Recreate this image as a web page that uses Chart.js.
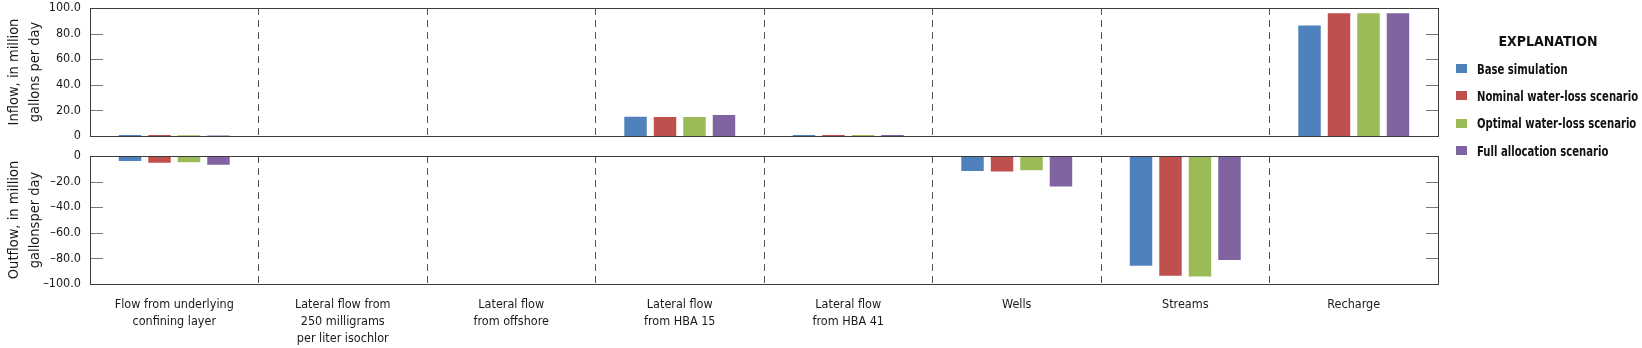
<!DOCTYPE html>
<html>
<head>
<meta charset="utf-8">
<script src="https://cdn.jsdelivr.net/npm/chart.js@4.4.1/dist/chart.umd.min.js"></script>
<style>
  body {
    margin: 0;
    background: #fff;
    width: 1642px;
    height: 348px;
    overflow: hidden;
    position: relative;
    font-family: 'Liberation Sans Narrow', 'DejaVu Sans Condensed', sans-serif;
  }
  #inflowBox { position: absolute; left: 0; top: 0; width: 1642px; height: 146px; }
  #outflowBox { position: absolute; left: 0; top: 146px; width: 1642px; height: 202px; }
  #legend { position: absolute; left: 1456px; top: 31px; color: #111; white-space: nowrap; }
  #legend h3 {
    margin: 0 0 4px 0; font-size: 14px; font-weight: bold; height: 20px; line-height: 20px;
    width: 184px; text-align: center;
  }
  #legend .item { display: flex; align-items: center; height: 27.3px; font-size: 13.5px; font-weight: bold; }
  #legend .swatch { width: 11px; height: 9px; margin-right: 10px; flex: none; }
  #legend .name { display: inline-block; transform: scaleX(0.83); transform-origin: left center; }
</style>
</head>
<body>
<div id="inflowBox"><canvas id="inflow"></canvas></div>
<div id="outflowBox"><canvas id="outflow"></canvas></div>
<div id="legend"></div>
<script>
const categories = [
  ['Flow from underlying', 'confining layer'],
  ['Lateral flow from', '250 milligrams', 'per liter isochlor'],
  ['Lateral flow', 'from offshore'],
  ['Lateral flow', 'from HBA 15'],
  ['Lateral flow', 'from HBA 41'],
  'Wells',
  'Streams',
  'Recharge'
];

const scenarios = [
  'Base simulation',
  'Nominal water-loss scenario',
  'Optimal water-loss scenario',
  'Full allocation scenario'
];
const colors = ['#4F81BD', '#C0504D', '#9BBB59', '#8064A2'];

// inflow, million gallons per day
const inflowBase    = [1.5, 0, 0, 15.9, 1.4, 0, 0, 87.2];
const inflowNominal = [1.5, 0, 0, 15.6, 1.4, 0, 0, 96.6];
const inflowOptimal = [1.1, 0, 0, 15.6, 1.4, 0, 0, 96.6];
const inflowFull    = [0.8, 0, 0, 17.2, 1.4, 0, 0, 96.6];

// outflow, million gallons per day
const outflowBase    = [-4.7, 0, -1.3, -1.3, -0.8, -12.5, -86.5, 0];
const outflowNominal = [-6.0, 0, -1.3, -1.3, -0.8, -12.8, -94.3, 0];
const outflowOptimal = [-5.7, 0, -1.3, -1.3, -0.8, -12.0, -95.0, 0];
const outflowFull    = [-7.6, 0, -1.3, -1.3, -0.8, -24.7, -82.0, 0];

const inflowTicks = [0, 20, 40, 60, 80, 100];
const outflowTicks = [0, -20, -40, -60, -80, -100];

const FONT = "'Liberation Sans Narrow', 'DejaVu Sans Condensed', sans-serif";

function makeDatasets(series) {
  return series.map((values, i) => ({
    label: scenarios[i],
    data: values,
    backgroundColor: colors[i],
    borderColor: 'rgba(255,255,255,0.55)',
    borderWidth: 1,
    categoryPercentage: 0.7,
    barPercentage: 0.83
  }));
}

// box round the plot and short inward ticks on both sides
const framePlugin = {
  id: 'frame',
  afterDatasetsDraw(chart) {
    const { ctx, chartArea: a, scales: { y } } = chart;
    ctx.save();
    ctx.strokeStyle = '#7a7a7a';
    ctx.lineWidth = 1;
    y.ticks.forEach(t => {
      const py = Math.round(y.getPixelForValue(t.value)) + 0.5;
      ctx.beginPath();
      ctx.moveTo(a.left, py); ctx.lineTo(a.left + 13, py);
      ctx.moveTo(a.right - 12, py); ctx.lineTo(a.right, py);
      ctx.stroke();
    });
    ctx.strokeStyle = '#3c3c3c';
    ctx.strokeRect(Math.round(a.left) + 0.5, Math.round(a.top) + 0.5,
      Math.round(a.right - a.left), Math.round(a.bottom - a.top));
    ctx.restore();
  }
};

function makeOptions(ticks, titleLines, showLabels) {
  const lo = Math.min(...ticks), hi = Math.max(...ticks);
  return {
    responsive: true,
    maintainAspectRatio: false,
    animation: false,
    layout: { padding: { left: 0, right: 204, top: showLabels ? 10 : 8, bottom: 0 } },
    plugins: { legend: { display: false }, tooltip: { enabled: false } },
    scales: {
      x: {
        grid: {
          offset: true,
          drawTicks: false,
          color: c => (c.index === 0 || c.index === categories.length) ? 'rgba(0,0,0,0)' : '#555',
          lineWidth: 1
        },
        border: { display: false, dash: [7, 5] },
        ticks: {
          display: showLabels,
          padding: 12,
          color: '#1a1a1a',
          font: { family: FONT, size: 12.5, lineHeight: 1.36 },
          maxRotation: 0,
          autoSkip: false
        },
        afterFit(scale) {
          scale.height = showLabels ? 64 : 10;
          scale.paddingLeft = 0;
          scale.paddingRight = 0;
        }
      },
      y: {
        min: lo,
        max: hi,
        grid: { display: false, drawTicks: false },
        border: { display: false },
        afterBuildTicks(scale) { scale.ticks = ticks.map(v => ({ value: v })); },
        ticks: {
          padding: 9,
          color: '#1a1a1a',
          font: { family: FONT, size: 12.5 },
          callback: v => v === 0 ? '0' : (v < 0 ? '\u2013' : '') + Math.abs(v).toFixed(1)
        },
        title: {
          display: true,
          text: titleLines,
          color: '#1a1a1a',
          font: { family: FONT, size: 14.5, lineHeight: 1.45 },
          padding: { top: 4, bottom: 0 }
        },
        afterFit(scale) {
          scale.width = 90;
          scale.paddingTop = 0;
          scale.paddingBottom = 0;
        }
      }
    }
  };
}

new Chart(document.getElementById('inflow'), {
  type: 'bar',
  data: {
    labels: categories,
    datasets: makeDatasets([inflowBase, inflowNominal, inflowOptimal, inflowFull])
  },
  options: makeOptions(inflowTicks, ['Inflow, in million', 'gallons per day'], false),
  plugins: [framePlugin]
});

new Chart(document.getElementById('outflow'), {
  type: 'bar',
  data: {
    labels: categories,
    datasets: makeDatasets([outflowBase, outflowNominal, outflowOptimal, outflowFull])
  },
  options: makeOptions(outflowTicks, ['Outflow, in million', 'gallonsper day'], true),
  plugins: [framePlugin]
});

// legend
const legend = document.getElementById('legend');
const head = document.createElement('h3');
head.textContent = 'EXPLANATION';
legend.appendChild(head);
scenarios.forEach((name, i) => {
  const row = document.createElement('div');
  row.className = 'item';
  const sw = document.createElement('span');
  sw.className = 'swatch';
  sw.style.background = colors[i];
  const txt = document.createElement('span');
  txt.className = 'name';
  txt.textContent = name;
  row.appendChild(sw);
  row.appendChild(txt);
  legend.appendChild(row);
});
</script>
</body>
</html>
